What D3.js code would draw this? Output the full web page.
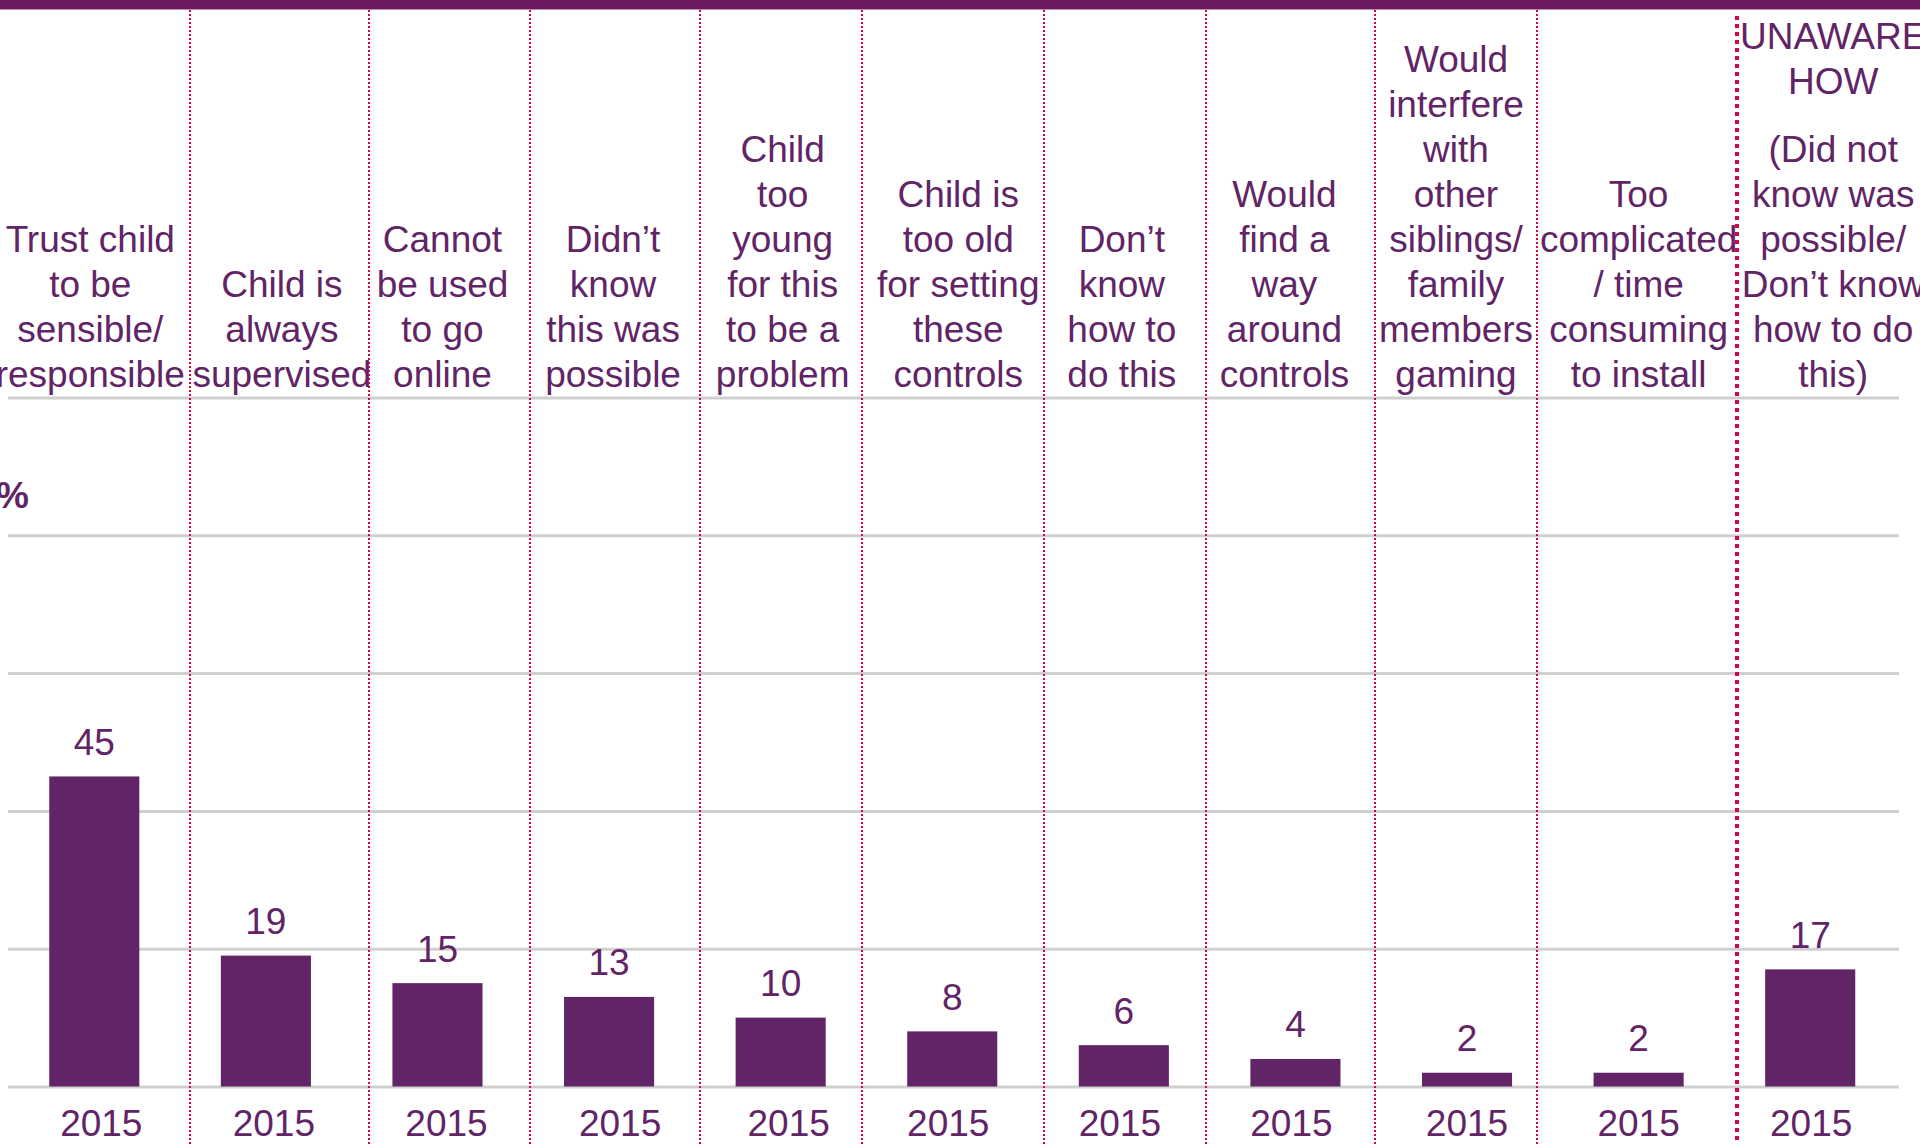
<!DOCTYPE html>
<html>
<head>
<meta charset="utf-8">
<script src="https://cdnjs.cloudflare.com/ajax/libs/d3/7.8.5/d3.min.js"></script>
<style>
    html, body { margin: 0; padding: 0; background: #fff; overflow: hidden; }
    svg { display: block; font-family: "Liberation Sans", Arial, sans-serif; }
</style>
</head>
<body>
<div id="chart"></div>
<script>
// category labels, one entry per line ("" = small paragraph gap)
const categories = [
    ["Trust child", "to be", "sensible/", "responsible"],
    ["Child is", "always", "supervised"],
    ["Cannot", "be used", "to go", "online"],
    ["Didn’t", "know", "this was", "possible"],
    ["Child", "too", "young", "for this", "to be a", "problem"],
    ["Child is", "too old", "for setting", "these", "controls"],
    ["Don’t", "know", "how to", "do this"],
    ["Would", "find a", "way", "around", "controls"],
    ["Would", "interfere", "with", "other", "siblings/", "family", "members", "gaming"],
    ["Too", "complicated", "/ time", "consuming", "to install"],
    ["UNAWARE", "HOW", "", "(Did not", "know was", "possible/", "Don’t know", "how to do", "this)"]
];
const values = [45, 19, 15, 13, 10, 8, 6, 4, 2, 2, 17];
const yearLabels = ["2015", "2015", "2015", "2015", "2015", "2015", "2015", "2015", "2015", "2015", "2015"];
const yTicks = [0, 20, 40, 60, 80, 100];

// layout
const W = 1920, H = 1144;
const purple = "#612466";
const gridColor = "#d0d0d0";
const dividerColor = "#d6063f";
const fontSize = 37;
const lineH = 45;
// separators and text boxes were hand placed in the source slide
const dividerX = [190, 369, 530, 700, 862, 1044, 1206, 1375, 1537];
const unawareX = 1737;
const labelNudge = [-4, 16, 5, 4, 2, 6, -2, -11, -11, 0, 23];
const yearNudge = [7, 8, 9, 11, 8, -4, -4, -4, 0, 0, 1];

const svg = d3.select("#chart").append("svg")
    .attr("width", W)
    .attr("height", H)
    .attr("viewBox", [0, 0, W, H]);

const x = d3.scaleBand()
    .domain(d3.range(values.length))
    .range([8.5, 1896])
    .paddingInner(0.475)
    .paddingOuter(0.2375);

const y = d3.scaleLinear().domain([0, 100]).range([1086.5, 397.5]);

// top band
svg.append("rect")
    .attr("x", 0).attr("y", 0)
    .attr("width", W).attr("height", 9.5)
    .attr("fill", "#6f1862");

// gridlines
const grid = svg.append("g")
    .attr("transform", "translate(8,0)")
    .call(d3.axisLeft(y).tickValues(yTicks).tickSize(-(1899 - 8)).tickFormat(""));
grid.select(".domain").remove();
grid.selectAll(".tick line").attr("stroke", gridColor).attr("stroke-width", 3);

// "%" unit
svg.append("text")
    .attr("x", 29).attr("y", 508)
    .attr("text-anchor", "end")
    .attr("font-size", fontSize)
    .attr("font-weight", "bold")
    .attr("fill", purple)
    .text("%");

// bars
svg.selectAll("rect.bar")
    .data(values)
    .join("rect")
    .attr("class", "bar")
    .attr("x", (d, i) => x(i))
    .attr("width", x.bandwidth())
    .attr("y", d => y(d))
    .attr("height", d => y(0) - y(d))
    .attr("fill", purple);

// value labels
svg.selectAll("text.value")
    .data(values)
    .join("text")
    .attr("class", "value")
    .attr("x", (d, i) => x(i) + x.bandwidth() / 2)
    .attr("y", d => y(d) - 21.5)
    .attr("text-anchor", "middle")
    .attr("font-size", fontSize)
    .attr("fill", purple)
    .text(d => d);

// year labels
svg.selectAll("text.year")
    .data(yearLabels)
    .join("text")
    .attr("class", "year")
    .attr("x", (d, i) => x(i) + x.bandwidth() / 2 + yearNudge[i])
    .attr("y", 1136)
    .attr("text-anchor", "middle")
    .attr("font-size", fontSize)
    .attr("fill", purple)
    .text(d => d);

// category labels, bottom aligned
const lastBaseline = 386.5;
categories.forEach((lines, i) => {
    const cx = x(i) + x.bandwidth() / 2 + labelNudge[i];
    let yy = lastBaseline;
    const pos = [];
    for (let k = lines.length - 1; k >= 0; k--) {
        if (lines[k] === "") { yy -= lineH / 2; continue; }
        pos.push({t: lines[k], y: yy});
        yy -= lineH;
    }
    svg.append("g").selectAll("text")
        .data(pos)
        .join("text")
        .attr("x", cx)
        .attr("y", d => d.y)
        .attr("text-anchor", "middle")
        .attr("font-size", fontSize)
        .attr("fill", purple)
        .text(d => d.t);
});

// dotted separators
svg.selectAll("line.sep")
    .data(dividerX)
    .join("line")
    .attr("class", "sep")
    .attr("x1", d => d).attr("x2", d => d)
    .attr("y1", 10).attr("y2", H)
    .attr("stroke", dividerColor)
    .attr("stroke-width", 2)
    .attr("stroke-dasharray", "2,2");

svg.append("line")
    .attr("x1", unawareX).attr("x2", unawareX)
    .attr("y1", 16).attr("y2", H)
    .attr("stroke", dividerColor)
    .attr("stroke-width", 4)
    .attr("stroke-dasharray", "4,4");
</script>
</body>
</html>
